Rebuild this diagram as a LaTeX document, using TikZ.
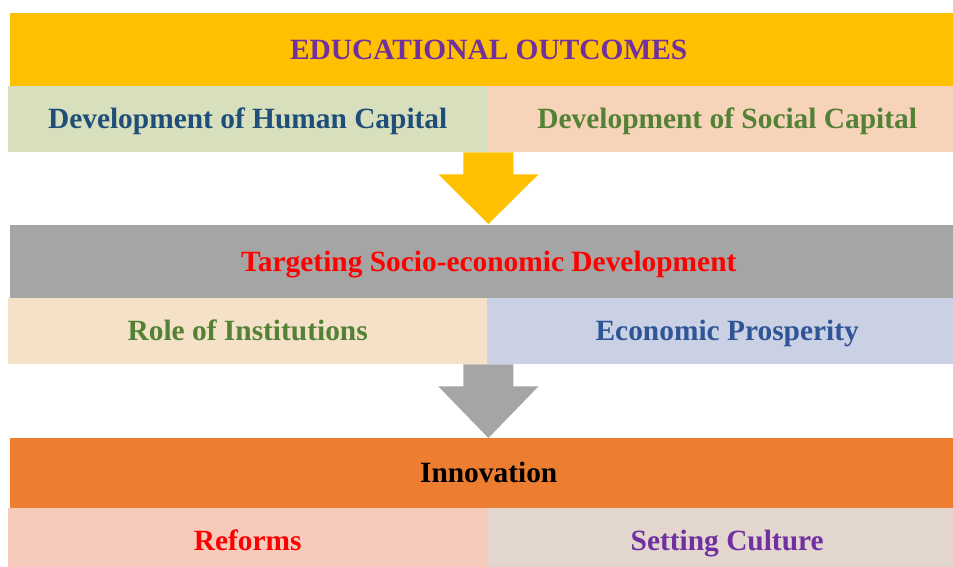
\documentclass[tikz,border=0pt]{standalone}
\usepackage{fontspec}
\setmainfont{Liberation Serif}
\usepackage{tikz}
\usetikzlibrary{calc}
\definecolor{outyellow}{HTML}{FFC000}
\definecolor{socgray}{HTML}{A5A5A5}
\definecolor{innorange}{HTML}{ED7D31}
\definecolor{humanfill}{HTML}{D8DFBC}
\definecolor{socialfill}{HTML}{F7D4B9}
\definecolor{instfill}{HTML}{F5E1C7}
\definecolor{prospfill}{HTML}{CBD1E4}
\definecolor{reformfill}{HTML}{F7CBBC}
\definecolor{culturefill}{HTML}{E2D6CE}
\definecolor{deeppurple}{HTML}{7030A0}
\definecolor{deepblue}{HTML}{1F4E79}
\definecolor{midblue}{HTML}{2F5597}
\definecolor{leafgreen}{HTML}{538135}

% block arrow pointing down: #1 top centre, #2 tip, #3 colour
\newcommand\blockdown[3]{%
  \fill[#3] ($(#1)+(-25,0)$) -- ($(#1)+(25,0)$) -- ($(#1)+(25,22)$)
    -- ($(#1)+(50,22)$) -- (#2) -- ($(#1)+(-50,22)$) -- ($(#1)+(-25,22)$) -- cycle;}

\begin{document}
\begin{tikzpicture}[x=1pt,y=-1pt,
  band/.style={rectangle,anchor=north west,inner sep=0pt,minimum width=957pt,
    minimum height=73pt,text height=26pt,text depth=7pt,
    font=\fontsize{29.4}{34}\selectfont\bfseries},
  cell/.style={band,minimum width=480pt,minimum height=66pt}]
  \clip (0,0) rectangle (953,567);
  \fill[white] (0,0) rectangle (953,567);

  % educational outcomes
  \node[band,fill=outyellow,text=deeppurple] (outcomes) at (10,13) {EDUCATIONAL OUTCOMES};
  \node[cell,fill=humanfill,text=deepblue,minimum width=479pt] (human) at (8,86) {Development of Human Capital};
  \node[cell,fill=socialfill,text=leafgreen] (social) at (487,86) {Development of Social Capital};

  % socio-economic development
  \node[band,fill=socgray,text=red] (targeting) at (10,225) {Targeting Socio-economic Development};
  \node[cell,fill=instfill,text=leafgreen,minimum width=479pt] (inst) at (8,298) {Role of Institutions};
  \node[cell,fill=prospfill,text=midblue] (prosp) at (487,298) {Economic Prosperity};

  % innovation
  \node[band,fill=innorange,text=black,minimum height=70pt] (innov) at (10,438) {Innovation};
  \node[cell,fill=reformfill,text=red,minimum width=479pt] (reforms) at (8,508) {Reforms};
  \node[cell,fill=culturefill,text=deeppurple] (culture) at (487,508) {Setting Culture};

  % arrows between the stages
  \coordinate (ytop) at ($(human.south east)+(1,0)$);
  \coordinate (ytip) at ($(ytop |- targeting.north)+(0,-1)$);
  \blockdown{ytop}{ytip}{outyellow}
  \coordinate (gtop) at ($(inst.south east)+(1,0)$);
  \coordinate (gtip) at (gtop |- innov.north);
  \blockdown{gtop}{gtip}{socgray}
\end{tikzpicture}
\end{document}
